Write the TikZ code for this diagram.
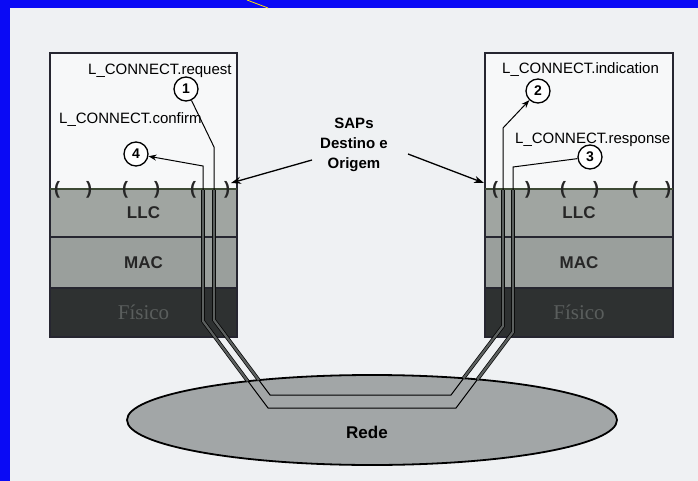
\documentclass[tikz,border=0pt]{standalone}
\usepackage{fontspec}
\setmainfont{Liberation Sans}
\newfontfamily\serifx{Liberation Serif}
\usetikzlibrary{arrows.meta,shapes.geometric}
\definecolor{bgc}{HTML}{EFF1F3}
\definecolor{bluec}{HTML}{0A0AF5}
\definecolor{boxw}{HTML}{F7F8F9}
\definecolor{llcc}{HTML}{A0A5A1}
\definecolor{macc}{HTML}{9A9F9C}
\definecolor{fisc}{HTML}{2E3131}
\definecolor{fist}{HTML}{5A5E5D}
\definecolor{netc}{HTML}{A2A6A7}
\definecolor{sapc}{HTML}{3D4A35}
\definecolor{edgec}{HTML}{262630}
\definecolor{tubec}{HTML}{5C605F}
\begin{document}
\begin{tikzpicture}[x=1pt,y=-1pt,
 layer/.style={draw=edgec, line width=1.2pt, inner sep=0pt, outer sep=0pt, minimum width=187pt},
 layertxt/.style={font=\fontsize{17}{17}\selectfont\bfseries, text=black!85},
 fistxt/.style={font=\serifx\fontsize{21}{21}\selectfont, text=fist},
 num/.style={circle, draw=black, line width=1.3pt, fill=white, minimum size=24pt, inner sep=0pt, font=\fontsize{14}{14}\selectfont\bfseries},
 prim/.style={font=\fontsize{15}{15}\selectfont, anchor=west, inner sep=0pt, text=black},
 paren/.style={font=\fontsize{18}{18}\selectfont\bfseries, inner sep=0pt, text=black!85},
 track/.style={line width=1pt, draw=black},
 tube/.style={line width=0.7pt, draw=black, double=tubec, double distance=2.2pt},
 sap/.style={line width=1.3pt, -{Stealth[length=10pt,width=7pt]}},
 tip/.style={-{Stealth[length=8pt,width=6pt]}}
]
\useasboundingbox (0,0) rectangle (698,481);
\fill[bgc] (0,0) rectangle (698,481);
\fill[bluec] (0,0) rectangle (698,8);
\fill[bluec] (0,0) rectangle (10,481);
\draw[yellow!85!orange, line width=0.8pt] (247,0) -- (268,8);

% network
\node[ellipse, draw=black, line width=1.8pt, fill=netc, minimum width=490pt, minimum height=90pt, inner sep=0pt] (net) at (372,420) {};
\node[font=\fontsize{17}{17}\selectfont\bfseries] (rede) at (367,432) {Rede};

% left stack
\node[layer, fill=boxw, minimum height=136pt] (upL) at (143.5,121) {};
\node[layer, fill=llcc, minimum height=48pt, layertxt] (llcL) at (143.5,213) {LLC};
\node[layer, fill=macc, minimum height=51pt, layertxt] (macL) at (143.5,262.5) {MAC};
\node[layer, fill=fisc, minimum height=49pt, fistxt] (fisL) at (143.5,312.5) {Físico};
\draw[edgec, line width=1.5pt] (upL.north west) rectangle (fisL.south east);
\draw[sapc, line width=1.6pt] (llcL.north west) -- (llcL.north east);

% right stack
\node[layer, minimum width=188pt, fill=boxw, minimum height=136pt] (upR) at (579,121) {};
\node[layer, minimum width=188pt, fill=llcc, minimum height=48pt, layertxt] (llcR) at (579,213) {LLC};
\node[layer, minimum width=188pt, fill=macc, minimum height=51pt, layertxt] (macR) at (579,262.5) {MAC};
\node[layer, minimum width=188pt, fill=fisc, minimum height=49pt, fistxt] (fisR) at (579,312.5) {Físico};
\draw[edgec, line width=1.5pt] (upR.north west) rectangle (fisR.south east);
\draw[sapc, line width=1.6pt] (llcR.north west) -- (llcR.north east);

% SAP brackets
\foreach \x/\c [count=\i] in {57/(,89/),125/(,157/),193/(,227/)}
  \node[paren] (pl\i) at (\x,190) {\c};
\foreach \x/\c [count=\i] in {495/(,528/),563/(,596/),635/(,668/)}
  \node[paren] (pr\i) at (\x,190) {\c};

% primitive labels
\node[prim] (lreq) at (88,71) {L\_CONNECT.request};
\node[prim] (lconf) at (59,120) {L\_CONNECT.confirm};
\node[prim] (lind) at (502,70) {L\_CONNECT.indication};
\node[prim] (lresp) at (515,140) {L\_CONNECT.response};

% numbered circles
\node[num] (c1) at (186,89) {1};
\node[num] (c4) at (136,154) {4};
\node[num] (c2) at (538,91) {2};
\node[num] (c3) at (590,157) {3};

% tracks
\draw[track, tip] (c1) -- (214,147) -- (214,320) -- (270,395) -- (451,395) -- (503,326) -- (503,128) -- (c2);
\draw[track, tip] (c3) -- (513,167) -- (513,332) -- (456,408) -- (268,408) -- (203,321) -- (203,166) -- (c4);
\draw[tube] (214,190) -- (214,320) -- (258.8,380.1);
\draw[tube] (203,190) -- (203,321) -- (247.8,381.2);
\draw[tube] (503,190) -- (503,326) -- (463.4,378.3);
\draw[tube] (513,190) -- (513,332) -- (477.4,379.5);

% SAP caption and arrows
\node[align=center, font=\fontsize{15}{20}\selectfont\bfseries, text=black] (saps) at (354,145) {SAPs\\Destino e\\Origem};
\coordinate (sapLs) at (312,160);
\coordinate (sapLt) at (231,183);
\coordinate (sapRs) at (408,154);
\coordinate (sapRt) at (484,183);
\draw[sap] (sapLs) -- (sapLt);
\draw[sap] (sapRs) -- (sapRt);
\end{tikzpicture}
\end{document}
